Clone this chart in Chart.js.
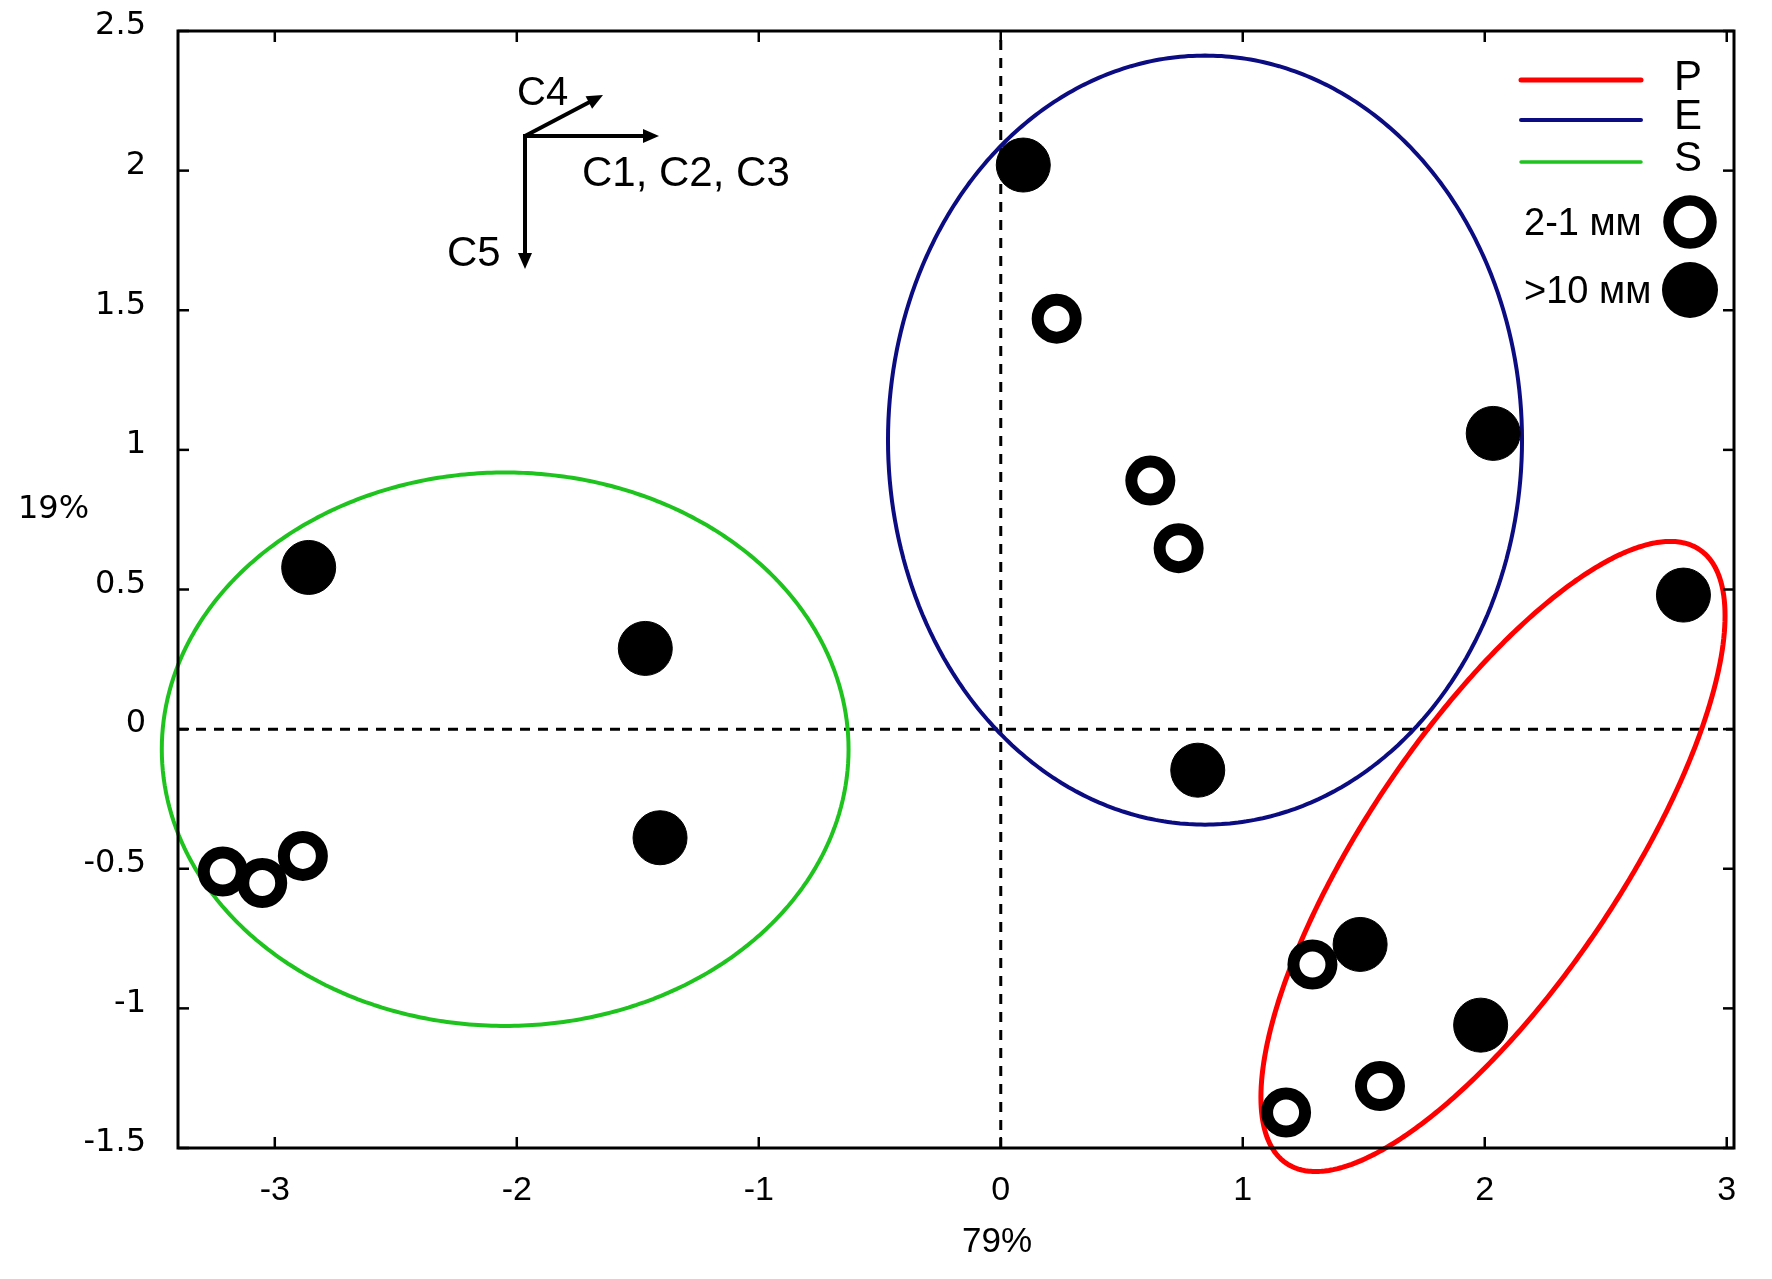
<!DOCTYPE html>
<html><head><meta charset="utf-8">
<script src="https://cdn.jsdelivr.net/npm/chart.js@4.4.1/dist/chart.umd.min.js"></script>
<style>html,body{margin:0;padding:0;background:#fff;} #wrap{width:1772px;height:1279px;position:relative;}</style>
</head><body><div id="wrap"><canvas id="c" width="1772" height="1279"></canvas></div>
<script>
// ---- data ----
const xTickValues = [-3, -2, -1, 0, 1, 2, 3];
const yTickValues = [-1.5, -1, -0.5, 0, 0.5, 1, 1.5, 2, 2.5];
const xLimits = [-3.40, 3.03];
const yLimits = [-1.5, 2.5];
const xTitle = '79%';
const yTitle = '19%';

// 2-1 мм fraction (open circles)
const fineX = [0.231, 0.618, 0.735, 1.288, 1.567, 1.179, -3.215, -3.052, -2.884];
const fineY = [1.470, 0.890, 0.648, -0.843, -1.278, -1.373, -0.510, -0.551, -0.454];
// >10 мм fraction (filled circles)
const coarseX = [0.093, 2.035, 2.821, 0.814, 1.485, 1.983, -2.860, -1.469, -1.408];
const coarseY = [2.020, 1.059, 0.480, -0.147, -0.771, -1.060, 0.579, 0.289, -0.389];

// group ellipses: centre and conjugate semi-axes (data units)
const groupNames = ['P', 'E', 'S'];
const ellipseCenter = [[2.034, -0.456], [0.844, 1.035], [-2.048, -0.072]];
const ellipseAxisA = [[0.959, 0.862], [1.310, 0], [1.419, 0]];
const ellipseAxisB = [[0, -0.728], [0, 1.377], [0, 0.991]];

const loadingLabels = ['C4', 'C1, C2, C3', 'C5'];
const sizeLabels = ['2-1 мм', '>10 мм'];

// ---- styles ----
const groupColors = ['#ff0000', '#0b0b82', '#1ec31e'];
const groupWidths = [5, 4, 4];

function ellipsePoints(i) {
  const pts = [];
  const n = 240;
  for (let k = 0; k <= n; k++) {
    const t = 2 * Math.PI * k / n;
    const c = Math.cos(t), s = Math.sin(t);
    pts.push({
      x: ellipseCenter[i][0] + ellipseAxisA[i][0] * c + ellipseAxisB[i][0] * s,
      y: ellipseCenter[i][1] + ellipseAxisA[i][1] * c + ellipseAxisB[i][1] * s
    });
  }
  return pts;
}

const ellipseSets = groupNames.map((n, i) => ({
  label: n, data: ellipsePoints(i), showLine: true, pointRadius: 0,
  borderColor: groupColors[i], borderWidth: groupWidths[i], backgroundColor: groupColors[i],
  fill: false, tension: 0.0001, capBezierPoints: false, clip: false, order: 3
}));

const zeroSets = [
  { label: 'h0', data: [{x: xLimits[0], y: 0}, {x: xLimits[1], y: 0}] },
  { label: 'v0', data: [{x: 0, y: yLimits[0]}, {x: 0, y: yLimits[1]}] }
].map(d => Object.assign(d, {
  showLine: true, pointRadius: 0, borderColor: '#000', borderWidth: 3,
  borderDash: [10, 8], fill: false, order: 4
}));

const markerSets = [
  { label: sizeLabels[1], data: coarseX.map((x, i) => ({x, y: coarseY[i]})),
    pointRadius: 27, borderWidth: 1, backgroundColor: '#000', borderColor: '#000',
    showLine: false, clip: false, order: 2 },
  { label: sizeLabels[0], data: fineX.map((x, i) => ({x, y: fineY[i]})),
    pointRadius: 19, borderWidth: 12, backgroundColor: '#fff', borderColor: '#000',
    showLine: false, clip: false, order: 1 }
];

function seg(ctx, x1, y1, x2, y2) { ctx.beginPath(); ctx.moveTo(x1, y1); ctx.lineTo(x2, y2); ctx.stroke(); }
function arrow(ctx, x1, y1, x2, y2) {
  const L = 16, W = 7;
  const a = Math.atan2(y2 - y1, x2 - x1);
  const bx = x2 - L * Math.cos(a), by = y2 - L * Math.sin(a);
  seg(ctx, x1, y1, bx + 2 * Math.cos(a), by + 2 * Math.sin(a));
  ctx.beginPath();
  ctx.moveTo(x2, y2);
  ctx.lineTo(bx - W * Math.sin(a), by + W * Math.cos(a));
  ctx.lineTo(bx + W * Math.sin(a), by - W * Math.cos(a));
  ctx.closePath(); ctx.fill();
}

const framePlugin = {
  id: 'frame',
  afterDraw(chart) {
    const ctx = chart.ctx;
    const {left, right, top, bottom} = chart.chartArea;
    const xs = chart.scales.x, ys = chart.scales.y;
    ctx.save();
    ctx.strokeStyle = '#000'; ctx.fillStyle = '#000';
    ctx.lineWidth = 3;
    ctx.strokeRect(left, top, right - left, bottom - top);
    ctx.lineWidth = 2.5;
    xTickValues.forEach(v => {
      const p = xs.getPixelForValue(v);
      seg(ctx, p, bottom, p, bottom - 11);
      seg(ctx, p, top, p, top + 11);
    });
    yTickValues.forEach(v => {
      const p = ys.getPixelForValue(v);
      seg(ctx, left, p, left + 11, p);
      seg(ctx, right, p, right - 11, p);
    });

    // axis titles
    ctx.textBaseline = 'alphabetic';
    ctx.font = '35px "Liberation Sans", Arial, sans-serif';
    ctx.textAlign = 'center';
    ctx.fillText(xTitle, 997, 1252);
    ctx.font = '32px "DejaVu Sans", Verdana, sans-serif';
    ctx.textAlign = 'left';
    ctx.fillText(yTitle, 18, 518);

    // loading arrows
    ctx.lineWidth = 4;
    ctx.lineCap = 'butt';
    arrow(ctx, 525, 136, 603, 95);
    arrow(ctx, 525, 136, 659, 136);
    arrow(ctx, 525, 134, 525, 269);
    ctx.textAlign = 'left';
    ctx.font = '40px "Liberation Sans", Arial, sans-serif';
    ctx.fillText(loadingLabels[0], 517, 105);
    ctx.font = '42px "Liberation Sans", Arial, sans-serif';
    ctx.fillText(loadingLabels[1], 582, 186);
    ctx.fillText(loadingLabels[2], 447, 266);

    // legend
    ctx.lineCap = 'round';
    const ly = [80, 120, 162], lw = [5, 4, 3.5];
    groupNames.forEach((n, i) => {
      ctx.strokeStyle = groupColors[i]; ctx.lineWidth = lw[i];
      seg(ctx, 1521, ly[i], 1641, ly[i]);
    });
    ctx.fillStyle = '#000';
    ctx.font = '42px "Liberation Sans", Arial, sans-serif';
    const lb = [90, 129, 171];
    groupNames.forEach((n, i) => ctx.fillText(n, 1674, lb[i]));
    ctx.font = '38px "Liberation Sans", Arial, sans-serif';
    ctx.fillText(sizeLabels[0], 1524, 235);
    ctx.fillText(sizeLabels[1], 1524, 303);
    ctx.strokeStyle = '#000'; ctx.lineWidth = 10.5;
    ctx.beginPath(); ctx.arc(1690, 222, 21.5, 0, 2 * Math.PI);
    ctx.fillStyle = '#fff'; ctx.fill(); ctx.stroke();
    ctx.fillStyle = '#000';
    ctx.beginPath(); ctx.arc(1690, 290, 28, 0, 2 * Math.PI); ctx.fill();
    ctx.restore();
  }
};

new Chart(document.getElementById('c'), {
  type: 'scatter',
  data: { datasets: [...zeroSets, ...ellipseSets, ...markerSets] },
  options: {
    responsive: false,
    animation: false,
    devicePixelRatio: 1,
    events: [],
    layout: { padding: { top: 27, right: 38, left: 0, bottom: 0 } },
    plugins: { legend: { display: false }, tooltip: { enabled: false }, title: { display: false } },
    scales: {
      x: {
        type: 'linear', position: 'bottom', min: xLimits[0], max: xLimits[1],
        afterBuildTicks: s => { s.ticks = xTickValues.map(v => ({value: v})); },
        afterFit: s => { s.height = 131; s.paddingLeft = 0; s.paddingRight = 0; },
        ticks: { font: { family: '"Liberation Sans", Arial, sans-serif', size: 34 }, color: '#000',
                 padding: 22, maxRotation: 0, autoSkip: false, callback: v => String(v) },
        grid: { display: false, drawTicks: false },
        border: { display: false }
      },
      y: {
        type: 'linear', position: 'left', min: yLimits[0], max: yLimits[1],
        afterBuildTicks: s => { s.ticks = yTickValues.map(v => ({value: v})); },
        afterFit: s => { s.width = 178; s.paddingTop = 0; s.paddingBottom = 0; },
        ticks: { font: { family: '"DejaVu Sans", Verdana, sans-serif', size: 32 }, color: '#000',
                 padding: 32, labelOffset: -5, autoSkip: false, callback: v => String(v) },
        grid: { display: false, drawTicks: false },
        border: { display: false }
      }
    }
  },
  plugins: [framePlugin]
});
</script>
</body></html>
